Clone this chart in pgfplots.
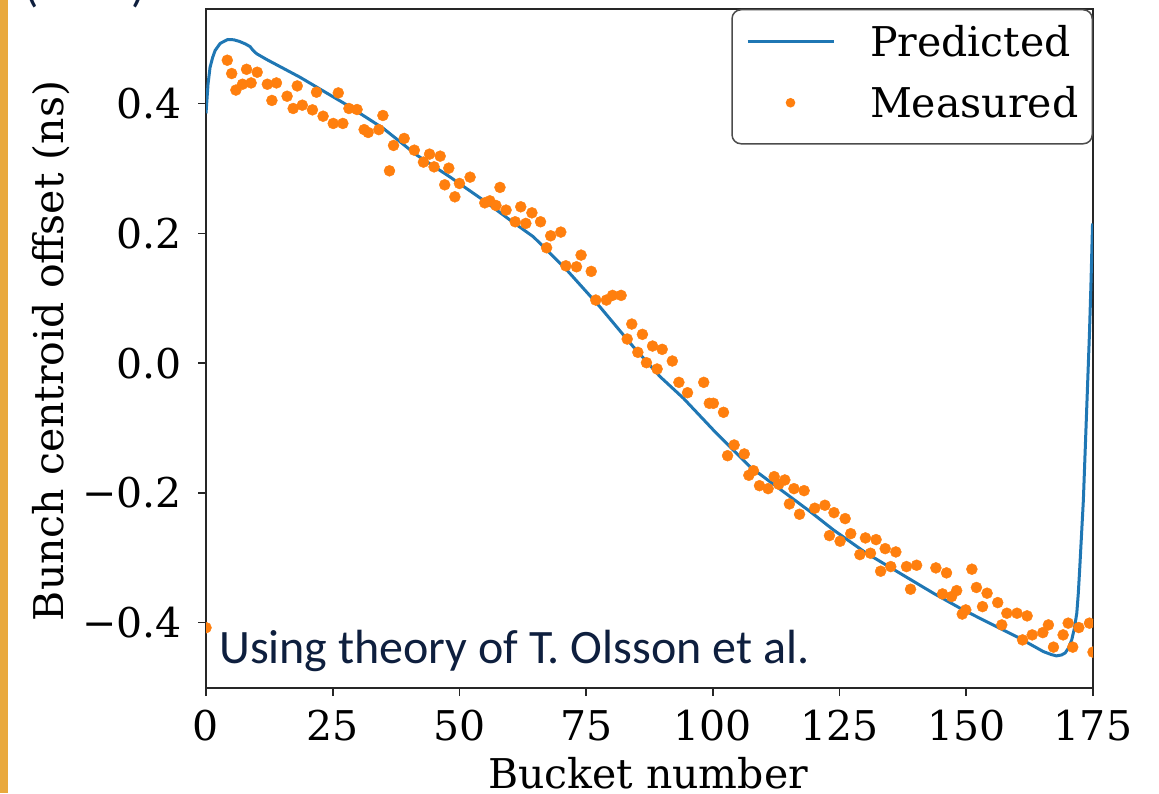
\documentclass[border=0pt]{standalone}
\usepackage{fontspec}
\usepackage{pgfplots}
\pgfplotsset{compat=1.18}
\setmainfont{DejaVu Serif}
\newfontfamily\calibri{Carlito}
\definecolor{cblue}{HTML}{1F77B4}
\definecolor{corange}{HTML}{FF7F0E}
\definecolor{navy}{HTML}{0E1F3E}
\definecolor{barcol}{HTML}{E9A93D}
\newcommand{\lf}{\fontsize{41}{49}\selectfont}
\pgfplotsset{
  lineleg/.style={legend image code/.code={\draw[##1] (0pt,15pt) -- (86pt,15pt);}},
  dotleg/.style={legend image code/.code={\draw[##1, mark size=4pt] plot coordinates {(43pt,15pt)};}},
}
\begin{document}
\begin{tikzpicture}
\useasboundingbox (0,0) rectangle (1159pt,793pt);
\fill[barcol] (0,0) rectangle (7.5pt,793pt);
\node[anchor=base west, inner sep=0pt, font=\calibri\fontsize{47}{56}\selectfont, text=navy] at (24pt,791pt) {(};
\node[anchor=base west, inner sep=0pt, font=\calibri\fontsize{47}{56}\selectfont, text=navy] at (131pt,791pt) {)};
\begin{axis}[
  at={(206pt,105pt)}, anchor=south west,
  scale only axis, width=887pt, height=679pt,
  xmin=0, xmax=175, ymin=-0.501, ymax=0.546,
  xtick={0,25,50,75,100,125,150,175},
  xticklabels={0,25,50,75,100,125,150,175},
  ytick={-0.4,-0.2,0,0.2,0.4},
  yticklabels={−0.4,−0.2,0.0,0.2,0.4},
  xtick pos=bottom, ytick pos=left,
  tick align=outside, major tick length=8pt,
  every tick/.style={line width=1.6pt, color=black!85},
  axis line style={line width=1.6pt, color=black!85},
  tick label style={font=\lf, inner sep=0pt},
  yticklabel style={xshift=-16pt},
  xticklabel style={yshift=-14pt},
  clip marker paths=true,
  legend cell align=left,
  legend style={at={(1,1)}, anchor=north east, draw=black!70, line width=1.5pt,
    rounded corners=9pt, fill=white, inner xsep=14pt, inner ysep=16pt,
    row sep=20pt, font=\lf,
    nodes={inner sep=0pt, text height=31pt, text depth=10pt, anchor=base west},
    /tikz/every odd column/.append style={column sep=35pt}},
]
\addplot[color=cblue, line width=3pt, line join=round, lineleg]
coordinates {
(0,0.385) (0.4,0.430) (0.8,0.456) (1.3,0.471) (1.8,0.482) (2.8,0.493) (4.3,0.499)
(5.5,0.4985) (6.6,0.496) (7.8,0.492) (8.7,0.488) (9.3,0.482) (10.0,0.477) (12,0.468)
(18.5,0.441) (27.8,0.398) (35.0,0.3618) (41.6,0.3206) (48.1,0.2872) (54.7,0.2513)
(60.0,0.2205) (64.6,0.1947) (71.2,0.1434) (77.7,0.0869) (84.3,0.0252) (89.6,-0.021)
(94.2,-0.0543) (100.7,-0.1082) (107.3,-0.1597) (113.9,-0.1982) (119.2,-0.229)
(123.8,-0.2573) (130.3,-0.2932) (136.9,-0.324) (143.5,-0.3548) (148.8,-0.378)
(153.3,-0.396) (159.9,-0.4217) (165.2,-0.4448) (166.8,-0.4495) (167.8,-0.4515)
(168.8,-0.450) (169.5,-0.447) (170.2,-0.439) (170.8,-0.4268) (171.3,-0.410)
(171.8,-0.3857) (172.1,-0.355) (172.4,-0.3138) (173.1,-0.211) (173.7,-0.0827)
(174.3,0.0459) (174.6,0.123) (174.9,0.2128) (175,0.215)
};
\addlegendentry{Predicted}
\addplot[only marks, mark=*, mark size=5.5pt, color=corange, dotleg]
coordinates {
(0,-0.408) (4.2,0.467) (5.07,0.4465) (5.9,0.421) (7.2,0.430) (8.0,0.453) (8.9,0.432)
(10.1,0.4485) (12.1,0.430) (13.0,0.405) (13.9,0.432) (16.0,0.4115) (17.2,0.3926)
(18.0,0.4274) (19.0,0.3977) (21.0,0.3905) (21.8,0.4177) (23.1,0.3807) (25.1,0.3695)
(26.1,0.4166) (27.0,0.3695) (28.2,0.3926) (29.8,0.391) (31.2,0.360) (32.0,0.3556)
(34.1,0.360) (34.9,0.3818) (36.2,0.2965) (37.0,0.3356) (39.1,0.3464) (41.1,0.3283)
(42.9,0.3099) (44.1,0.3222) (45.0,0.3026) (46.2,0.3191) (47.1,0.2749) (47.9,0.3006)
(49.1,0.2564) (50.0,0.277) (52.1,0.2867) (55.0,0.2471) (56.0,0.2502) (57.2,0.2431)
(58.0,0.2709) (59.2,0.2359) (61.0,0.2179) (62.1,0.241) (63.1,0.2154) (64.3,0.2317)
(66.0,0.2179) (67.2,0.1778) (68.0,0.1963) (70.0,0.202) (71.0,0.150) (73.1,0.1485)
(74.0,0.1665) (76.0,0.1414) (76.9,0.0972) (79.0,0.0972) (80.2,0.1044) (81.9,0.1044)
(83.1,0.0371) (84.0,0.0602) (85.2,0.0166) (86.1,0.0443) (86.9,0.0006) (88.1,0.0263)
(89.0,-0.0091) (90.0,0.0212) (92.0,0.0032) (93.3,-0.0297) (95.0,-0.0457) (98.2,-0.0297)
(99.3,-0.062) (100.1,-0.062) (102.1,-0.0759) (102.9,-0.1428) (104.2,-0.1263)
(106.2,-0.1401) (107.1,-0.173) (108.0,-0.1659) (109.2,-0.189) (110.9,-0.1936)
(112.1,-0.1751) (113.0,-0.1868) (114.2,-0.1802) (115.1,-0.2172) (116.0,-0.1936)
(117.1,-0.2331) (118.0,-0.1967) (120.1,-0.2238) (122.1,-0.2192) (123.0,-0.266)
(123.9,-0.2306) (125.1,-0.2747) (126.1,-0.2398) (127.2,-0.263) (129.0,-0.2953)
(130.1,-0.2696) (131.1,-0.2932) (132.2,-0.2722) (133.1,-0.3209) (134.0,-0.2861)
(135.1,-0.3138) (136.1,-0.2912) (138.2,-0.3138) (139.0,-0.3487) (140.2,-0.3117)
(144.0,-0.3158) (145.3,-0.3559) (146.1,-0.3235) (147.1,-0.360) (148.1,-0.3508)
(149.2,-0.387) (149.9,-0.3806) (151.1,-0.3178) (152.0,-0.346) (153.2,-0.3755)
(154.1,-0.3548) (156.2,-0.3693) (157.0,-0.4037) (158.0,-0.3857) (160.0,-0.3857)
(161.1,-0.4268) (162.0,-0.3898) (163.0,-0.4191) (165.1,-0.4156) (166.2,-0.4037)
(167.2,-0.438) (169.1,-0.4191) (170.1,-0.401) (171.0,-0.438) (172.2,-0.4078)
(174.3,-0.401) (175.0,-0.4457)
};
\addlegendentry{Measured}
\end{axis}
\node[anchor=base, rotate=90, inner sep=0pt, font=\lf] at (63pt,442pt) {Bunch centroid offset (ns)};
\node[anchor=base, inner sep=0pt, font=\lf] at (648pt,5pt) {Bucket number};
\node[anchor=base west, inner sep=0pt, font=\calibri\fontsize{48}{57}\selectfont, text=navy] at (219pt,130pt) {Using theory of T. Olsson et al.};
\end{tikzpicture}
\end{document}
